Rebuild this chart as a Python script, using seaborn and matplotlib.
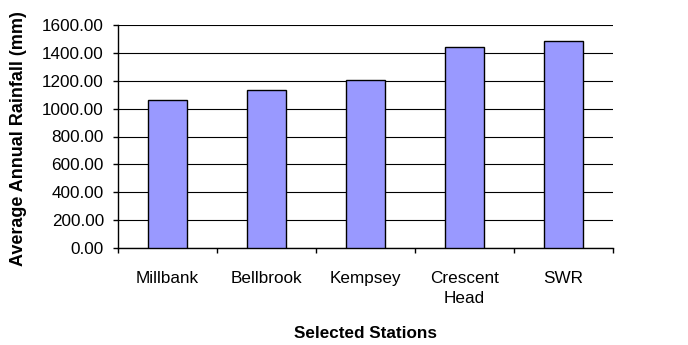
import matplotlib
matplotlib.use("Agg")
import matplotlib.pyplot as plt
import seaborn as sns
import pandas as pd

stations = ["Millbank", "Bellbrook", "Kempsey", "Crescent\nHead", "SWR"]
rainfall = [1063, 1133, 1202, 1439, 1482]
yticks = [0, 200, 400, 600, 800, 1000, 1200, 1400, 1600]

sns.set_theme(style="white")
plt.rcParams['font.family'] = ['Liberation Sans', 'DejaVu Sans']
for k in ["text.color", "axes.labelcolor", "xtick.color", "ytick.color"]:
    plt.rcParams[k] = "black"

df = pd.DataFrame({"Station": stations, "Rainfall": rainfall})

fig = plt.figure(figsize=(6.88, 3.45), dpi=100)
ax = fig.add_axes([118/688, 1 - 248/345, (613-118)/688, (248-25)/345])

sns.barplot(data=df, x="Station", y="Rainfall", ax=ax, color="#9999FF",
            saturation=1, width=0.4, edgecolor="black", linewidth=1, zorder=3)

ax.set_ylim(0, 1600)
ax.set_xlim(-0.5, 4.5)
ax.set_yticks(yticks)
ax.set_yticklabels([f"{v:.2f}" for v in yticks], fontsize=12.3)
ax.yaxis.grid(True, color="#000000", linewidth=0.8, zorder=0)
ax.set_axisbelow(True)

for s in ["top", "right"]:
    ax.spines[s].set_visible(False)
for s in ["left", "bottom"]:
    ax.spines[s].set_color("black")
    ax.spines[s].set_linewidth(1)

ax.tick_params(axis="y", direction="out", length=3.6, width=1, color="black", left=True, pad=6.5)
ax.set_xticks(range(len(stations)))
ax.set_xticklabels(stations, fontsize=12.3, linespacing=1.45)
ax.tick_params(axis="x", which="major", length=0, pad=16.5)
ax.set_xticks([i + 0.5 for i in range(-1, len(stations))], minor=True)
ax.tick_params(axis="x", which="minor", direction="out", length=3.6, width=1, color="black", bottom=True)

ax.set_xlabel("Selected Stations", fontsize=12.3, fontweight="bold")
ax.xaxis.set_label_coords(0.5, (248 - 326) / 223)
ax.set_ylabel("Average Annual Rainfall (mm)", fontsize=13, fontweight="bold")
ax.yaxis.label.set_horizontalalignment("left")
ax.yaxis.set_label_coords((27 - 118) / 495, (248 - 266) / 223)

fig.savefig("out.png", dpi=100)
